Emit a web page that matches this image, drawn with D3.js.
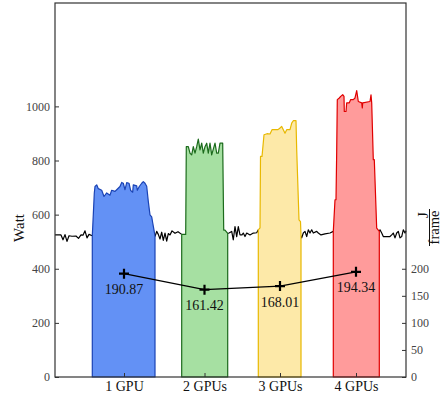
<!DOCTYPE html>
<html>
<head>
<meta charset="utf-8">
<script src="https://cdn.jsdelivr.net/npm/d3@7"></script>
<style>
  html, body { margin: 0; padding: 0; background: #fff; }
  svg { display: block; }
  text { font-family: "Liberation Serif", "Times New Roman", serif; }
</style>
</head>
<body>
<svg id="chart" width="441" height="400"></svg>
<script>
// ---------- data ----------
const categories = ["1 GPU", "2 GPUs", "3 GPUs", "4 GPUs"];
const runTimes = [69, 149.5, 225, 301];            // centre time of each run (s)
const energyPerFrame = [190.87, 161.42, 168.01, 194.34]; // J/frame
const leftTicks = [0, 200, 400, 600, 800, 1000];
const rightTicks = [0, 50, 100, 150, 200];
const timeDomain = [0, 351];
const powerMax = 1382;

// power traces [time (s), Watt]
const run1 = [[37.3,522],[38.3,600],[39.3,680],[40,704],[41.7,710],[43.3,696],[46.7,690],[49,667],[51.7,680],[55,672],[56.7,690],[60,686],[61.7,692],[65,704],[66.7,719],[68.3,716],[70,692],[71.7,718],[74,716],[75.7,689],[77.7,683],[78.3,710],[81.7,706],[82.3,690],[84.3,704],[86.7,716],[88.3,722],[90,716],[91.7,705],[93.3,649],[95,599],[96.7,592],[97.7,570],[99,543],[100,520]];
const run2 = [[126.7,527],[130.7,527],[131.3,851],[133.3,851],[135,827],[136.7,821],[138.3,851],[140,827],[141.7,851],[143.3,879],[145,839],[146.7,864],[148.3,827],[150,851],[151.7,864],[153.3,827],[155,864],[156.7,821],[160,864],[161.7,827],[163.3,827],[165,864],[167.7,864],[168.7,543],[170,543],[172.7,531]];
const run3 = [[203.3,544],[205,551],[205.5,815],[207,815],[209,895],[212,899],[215,898],[217,914],[223,914],[225,920],[226.7,926],[228.3,914],[230,901],[231.7,914],[235,914],[236.7,938],[238.3,947],[241,947],[241.7,840],[244,581],[245.5,574],[246,522]];
const run4 = [[278.3,538],[280,655],[281,655],[281.7,833],[282.3,1025],[284.3,1031],[285.7,1037],[287.7,1043],[289,1037],[289.3,981],[291,981],[291.7,1013],[294.3,1013],[295.7,1025],[298.3,1025],[300,1031],[301.7,1058],[303.3,1018],[306.7,1013],[307.3,994],[307.7,1013],[315,1018],[316,1043],[316.7,1013],[318.3,803],[319.3,803],[321.7,550],[324.3,538]];

const idle0 = [[0,525],[6,525],[8,507],[10,526],[12,501],[14,522],[17,520],[21,521],[23.5,512],[26,525],[28,524],[30,540],[32,514],[34,527],[37.3,522]];
const idle1 = [[100,519],[101.7,538],[103.3,527],[105,510],[106.7,535],[108.3,505],[110,532],[111.7,502],[113.3,530],[115,525],[117,540],[120,531],[123,537],[126.7,527]];
const idle2 = [[172.7,531],[174,532],[176.7,538],[178.3,507],[180,556],[181.7,519],[183.3,556],[185,525],[187,525],[188.3,532],[190,519],[191.7,532],[195,525],[198.3,532],[201.7,533],[203.3,544]];
const idle3 = [[246,522],[246.7,514],[248.3,532],[250,538],[251.7,519],[253.3,544],[255,532],[256.7,544],[258.3,532],[261.7,538],[263.3,532],[266,525],[270,529],[275,532],[278.3,538]];
const idle4 = [[324.3,538],[325,544],[326.7,532],[328.3,519],[335,519],[336.7,525],[338.3,532],[340,514],[341.7,532],[343.3,538],[345,514],[346.7,519],[348.3,544],[350,532],[351,540]];

const runs = [run1, run2, run3, run4];
const idles = [idle0, idle1, idle2, idle3, idle4];
const fillColors = ["#6391f5", "#a6e0a2", "#fde9a8", "#ff9b9b"];
const strokeColors = ["#1a43b5", "#1c6b1c", "#e8b800", "#e00000"];

// ---------- layout ----------
const M = { left: 55, right: 406, top: 3, bottom: 377 };
const svg = d3.select("#chart");

const x = d3.scaleLinear().domain(timeDomain).range([M.left, M.right]);
const y = d3.scaleLinear().domain([0, powerMax]).range([M.bottom, M.top]);
const yR = d3.scaleLinear().domain([0, powerMax / 2]).range([M.bottom, M.top]);

const line = d3.line().x(d => x(d[0])).y(d => y(d[1]));
const area = d3.area().x(d => x(d[0])).y0(y(0)).y1(d => y(d[1]));

// idle trace
svg.append("g").selectAll("path").data(idles).join("path")
  .attr("d", line).attr("fill", "none").attr("stroke", "#000")
  .attr("stroke-width", 1.2).attr("stroke-linejoin", "round");

// run areas
svg.append("g").selectAll("path").data(runs).join("path")
  .attr("d", area)
  .attr("fill", (d, i) => fillColors[i])
  .attr("stroke", (d, i) => strokeColors[i])
  .attr("stroke-width", 1.2).attr("stroke-linejoin", "round");

// energy per frame line + markers
const pts = energyPerFrame.map((v, i) => [x(runTimes[i]), yR(v)]);
svg.append("path").attr("d", d3.line()(pts))
  .attr("fill", "none").attr("stroke", "#000").attr("stroke-width", 1.2);
svg.append("g").selectAll("path").data(pts).join("path")
  .attr("d", d => `M${d[0]-5},${d[1]}H${d[0]+5}M${d[0]},${d[1]-5}V${d[1]+5}`)
  .attr("stroke", "#000").attr("stroke-width", 2.2).attr("fill", "none");
svg.append("g").selectAll("text").data(pts).join("text")
  .attr("x", d => d[0]).attr("y", d => d[1] + 20.5)
  .attr("text-anchor", "middle").attr("font-size", 14).attr("fill", "#111")
  .text((d, i) => energyPerFrame[i].toFixed(2));

// axes
const gL = svg.append("g").attr("transform", `translate(${M.left},0)`)
  .call(d3.axisLeft(y).tickValues(leftTicks).tickSizeInner(-4).tickSizeOuter(0).tickPadding(5).tickFormat(d3.format("d")));
const gR = svg.append("g").attr("transform", `translate(${M.right},0)`)
  .call(d3.axisRight(yR).tickValues(rightTicks).tickSizeInner(-4).tickSizeOuter(0).tickPadding(5).tickFormat(d3.format("d")));
const gB = svg.append("g").attr("transform", `translate(0,${M.bottom})`)
  .call(d3.axisBottom(x).tickValues(runTimes).tickSizeInner(-4).tickSizeOuter(0).tickPadding(4.5).tickFormat((d, i) => categories[i]));
[gL, gR, gB].forEach(g => {
  g.select(".domain").remove();
  g.selectAll(".tick line").attr("stroke", "#333").attr("stroke-width", 1);
  g.selectAll(".tick text").attr("font-family", "Liberation Serif").attr("fill", "#444");
});
gL.selectAll(".tick text").attr("font-size", 12);
gR.selectAll(".tick text").attr("font-size", 12);
gB.selectAll(".tick text").attr("font-size", 14).attr("fill", "#111");

// frame
svg.append("rect").attr("x", M.left).attr("y", M.top)
  .attr("width", M.right - M.left).attr("height", M.bottom - M.top)
  .attr("fill", "none").attr("stroke", "#333").attr("stroke-width", 1.2);

// axis titles
svg.append("text").attr("transform", "translate(24,228) rotate(-90)")
  .attr("text-anchor", "middle").attr("font-size", 15).attr("fill", "#111").text("Watt");
svg.append("text").attr("transform", "translate(428,215) rotate(-90)")
  .attr("text-anchor", "middle").attr("font-size", 15).attr("fill", "#111").text("J");
svg.append("line").attr("x1", 429.5).attr("x2", 429.5).attr("y1", 209).attr("y2", 246)
  .attr("stroke", "#111").attr("stroke-width", 1);
svg.append("text").attr("transform", "translate(438.5,227.5) rotate(-90)")
  .attr("text-anchor", "middle").attr("font-size", 14.5).attr("fill", "#111").text("frame");
</script>
</body>
</html>
